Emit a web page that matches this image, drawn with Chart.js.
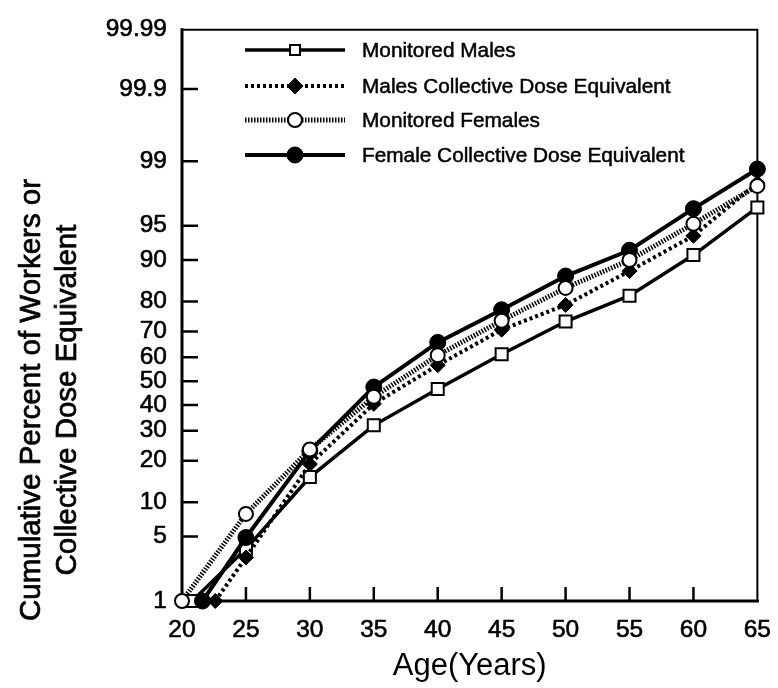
<!DOCTYPE html>
<html>
<head>
<meta charset="utf-8">
<script src="https://cdn.jsdelivr.net/npm/chart.js@4.4.1/dist/chart.umd.min.js"></script>
<style>
  html, body { margin: 0; padding: 0; background: #fff; }
  #wrap { width: 778px; height: 688px; }
</style>
</head>
<body>
<div id="wrap"><canvas id="chartCanvas" width="778" height="688"></canvas></div>
<script>
// values (percent, probability scale)
const yTicks = [1, 5, 10, 20, 30, 40, 50, 60, 70, 80, 90, 95, 99, 99.9, 99.99];
const xTicks = [20, 25, 30, 35, 40, 45, 50, 55, 60, 65];

const monMalesAge = [20.8, 25, 30, 35, 40, 45, 50, 55, 60, 65];
const monMales = [1, 3.8, 15.5, 32, 46.7, 61.2, 73.6, 81.7, 90.9, 96.7];

const malesCdeAge = [22.6, 25, 30, 35, 40, 45, 50, 55, 60, 65];
const malesCde = [1, 3.1, 19, 40.5, 56.7, 70.7, 79.0, 87.8, 93.8, 98.2];

const monFemalesAge = [20, 25, 30, 35, 40, 45, 50, 55, 60, 65];
const monFemales = [1, 8.0, 23.5, 43.4, 60.8, 73.9, 83.8, 90.0, 95.2, 98.06];

const femaleCdeAge = [21.6, 25, 30, 35, 40, 45, 50, 55, 60, 65];
const femaleCde = [1, 4.9, 23, 47.5, 65.9, 77.5, 86.7, 91.7, 96.6, 98.76];

const FONT = '"Liberation Sans", Arial, Helvetica, sans-serif';

// inverse normal cdf (Acklam)
function probit(p) {
  p = Math.min(Math.max(p, 1e-9), 1 - 1e-9);
  const a = [-3.969683028665376e+01, 2.209460984245205e+02, -2.759285104469687e+02, 1.383577518672690e+02, -3.066479806614716e+01, 2.506628277459239e+00];
  const b = [-5.447609879822406e+01, 1.615858368580409e+02, -1.556989798598866e+02, 6.680131188771972e+01, -1.328068155288572e+01];
  const c = [-7.784894002430293e-03, -3.223964580411365e-01, -2.400758277161838e+00, -2.549732539343734e+00, 4.374664141464968e+00, 2.938163982698783e+00];
  const d = [7.784695709041462e-03, 3.224671290700398e-01, 2.445134137142996e+00, 3.754408661907416e+00];
  const pl = 0.02425;
  let q, r;
  if (p < pl) {
    q = Math.sqrt(-2 * Math.log(p));
    return (((((c[0]*q+c[1])*q+c[2])*q+c[3])*q+c[4])*q+c[5]) / ((((d[0]*q+d[1])*q+d[2])*q+d[3])*q+1);
  }
  if (p > 1 - pl) {
    q = Math.sqrt(-2 * Math.log(1 - p));
    return -(((((c[0]*q+c[1])*q+c[2])*q+c[3])*q+c[4])*q+c[5]) / ((((d[0]*q+d[1])*q+d[2])*q+d[3])*q+1);
  }
  q = p - 0.5; r = q * q;
  return (((((a[0]*r+a[1])*r+a[2])*r+a[3])*r+a[4])*r+a[5])*q / (((((b[0]*r+b[1])*r+b[2])*r+b[3])*r+b[4])*r+1);
}

function normCdf(z) {
  const t = 1 / (1 + 0.3275911 * Math.abs(z) / Math.SQRT2);
  const y = 1 - (((((1.061405429*t - 1.453152027)*t) + 1.421413741)*t - 0.284496736)*t + 0.254829592)*t * Math.exp(-z*z/2);
  return z >= 0 ? (1 + y) / 2 : (1 - y) / 2;
}

// probability-paper axis
class ProbitScale extends Chart.Scale {
  determineDataLimits() {
    this.min = this.options.min;
    this.max = this.options.max;
  }
  buildTicks() {
    return yTicks.map(v => ({ value: v }));
  }
  configure() {
    super.configure();
    this._zStart = probit(this.min / 100);
    this._zEnd = probit(this.max / 100);
  }
  getPixelForValue(v) {
    const z = probit(v / 100);
    return this.getPixelForDecimal((z - this._zStart) / (this._zEnd - this._zStart));
  }
  getValueForPixel(px) {
    const dec = this.getDecimalForPixel(px);
    return 100 * normCdf(this._zStart + dec * (this._zEnd - this._zStart));
  }
}
ProbitScale.id = 'probit';
ProbitScale.defaults = {};
Chart.register(ProbitScale);

function pts(xs, ys) {
  return xs.map((x, i) => ({ x: x, y: ys[i] }));
}

const datasets = [
  {
    label: 'Monitored Males',
    data: pts(monMalesAge, monMales),
    borderColor: '#000', borderWidth: 3.5, borderDash: [],
    pointStyle: 'rect', pointRadius: 8.5, pointBorderWidth: 2,
    pointBackgroundColor: '#fff', pointBorderColor: '#000',
    legendRadius: 7, order: 3
  },
  {
    label: 'Males Collective Dose Equivalent',
    data: pts(malesCdeAge, malesCde),
    borderColor: '#000', borderWidth: 4, borderDash: [3, 3],
    pointStyle: 'rectRot', pointRadius: 7.5, pointBorderWidth: 1,
    pointBackgroundColor: '#000', pointBorderColor: '#000',
    legendRadius: 8, order: 1
  },
  {
    label: 'Monitored Females',
    data: pts(monFemalesAge, monFemales),
    borderColor: '#000', borderWidth: 5, borderDash: [1.5, 1.5],
    pointStyle: 'circle', pointRadius: 7, pointBorderWidth: 2,
    pointBackgroundColor: '#fff', pointBorderColor: '#000',
    legendRadius: 7, order: 0
  },
  {
    label: 'Female Collective Dose Equivalent',
    data: pts(femaleCdeAge, femaleCde),
    borderColor: '#000', borderWidth: 4, borderDash: [],
    pointStyle: 'circle', pointRadius: 8, pointBorderWidth: 1,
    pointBackgroundColor: '#000', pointBorderColor: '#000',
    legendRadius: 8, order: 2
  }
];
datasets.forEach(d => { d.clip = false; d.tension = 0; d.fill = false; });

// frame with inward tick marks, titles and legend
const framePlugin = {
  id: 'framePlugin',
  beforeDatasetsDraw(chart) {
    const { ctx, chartArea: a } = chart;
    const xs = chart.scales.x, ys = chart.scales.y;
    ctx.save();
    ctx.strokeStyle = '#000';
    ctx.lineCap = 'square';
    ctx.lineWidth = 2;
    ctx.beginPath();
    ctx.moveTo(a.left, a.top); ctx.lineTo(a.right, a.top); ctx.lineTo(a.right, a.bottom);
    ctx.stroke();
    ctx.lineWidth = 3;
    ctx.beginPath();
    ctx.moveTo(a.left, a.top); ctx.lineTo(a.left, a.bottom); ctx.lineTo(a.right, a.bottom);
    ctx.stroke();
    ctx.lineWidth = 2.5;
    ctx.lineCap = 'butt';
    ctx.beginPath();
    yTicks.slice(1, -1).forEach(v => {
      const y = ys.getPixelForValue(v);
      ctx.moveTo(a.left, y); ctx.lineTo(a.left + 16, y);
    });
    xTicks.slice(1, -1).forEach(v => {
      const x = xs.getPixelForValue(v);
      ctx.moveTo(x, a.bottom); ctx.lineTo(x, a.bottom - 14);
    });
    ctx.stroke();
    ctx.restore();
  },
  afterDraw(chart) {
    const ctx = chart.ctx;
    ctx.save();
    // y axis title, two rotated lines
    ctx.fillStyle = '#000';
    ctx.strokeStyle = '#000';
    ctx.lineWidth = 0.7;
    ctx.font = '29.5px ' + FONT;
    ctx.textAlign = 'center';
    ctx.textBaseline = 'middle';
    ctx.translate(32, 400);
    ctx.rotate(-Math.PI / 2);
    ['Cumulative Percent of Workers or', 'Collective Dose Equivalent'].forEach((t, i) => {
      ctx.fillText(t, 0, i * 36);
      ctx.strokeText(t, 0, i * 36);
    });
    ctx.restore();

    // legend: line sample with marker, inside plot
    const rows = [50, 86, 120, 155];
    ctx.save();
    ctx.font = '20.8px ' + FONT;
    ctx.textBaseline = 'middle';
    ctx.textAlign = 'left';
    chart.data.datasets.forEach((ds, i) => {
      const y = rows[i];
      ctx.strokeStyle = '#000';
      ctx.lineWidth = ds.borderWidth;
      ctx.setLineDash(ds.borderDash);
      ctx.beginPath();
      ctx.moveTo(245, y); ctx.lineTo(345, y);
      ctx.stroke();
      ctx.setLineDash([]);
      ctx.fillStyle = ds.pointBackgroundColor;
      ctx.strokeStyle = ds.pointBorderColor;
      ctx.lineWidth = ds.pointBorderWidth;
      Chart.helpers.drawPoint(ctx, { pointStyle: ds.pointStyle, radius: ds.legendRadius, rotation: 0, borderWidth: ds.pointBorderWidth }, 295, y);
      ctx.fillStyle = '#000';
      ctx.strokeStyle = '#000';
      ctx.lineWidth = 0.5;
      ctx.fillText(ds.label, 362, y + 1);
      ctx.strokeText(ds.label, 362, y + 1);
    });
    ctx.restore();
  }
};

Chart.defaults.font.family = FONT;
Chart.defaults.color = '#000';

new Chart(document.getElementById('chartCanvas'), {
  type: 'line',
  data: { datasets: datasets },
  options: {
    responsive: false,
    animation: false,
    layout: { padding: { top: 24, right: 14, left: 0, bottom: 0 } },
    plugins: { legend: { display: false }, tooltip: { enabled: false } },
    scales: {
      x: {
        type: 'linear', min: 20, max: 65,
        afterBuildTicks: s => { s.ticks = xTicks.map(v => ({ value: v })); },
        afterFit: s => { s.height = 87; },
        grid: { display: false }, border: { display: false },
        ticks: { font: { size: 24.5 }, padding: 7, color: '#000', autoSkip: false, maxRotation: 0,
                 textStrokeColor: '#000', textStrokeWidth: 0.6 },
        title: { display: true, text: 'Age(Years)', font: { size: 31 }, padding: { top: 0, bottom: 3 }, color: '#000' }
      },
      y: {
        type: 'probit', min: 1, max: 99.99,
        afterFit: s => { s.width = 182; },
        grid: { display: false, drawTicks: false }, border: { display: false },
        ticks: { font: { size: 24.5 }, padding: 15, color: '#000', autoSkip: false, callback: v => String(v),
                 textStrokeColor: '#000', textStrokeWidth: 0.6 }
      }
    }
  },
  plugins: [framePlugin]
});
</script>
</body>
</html>
